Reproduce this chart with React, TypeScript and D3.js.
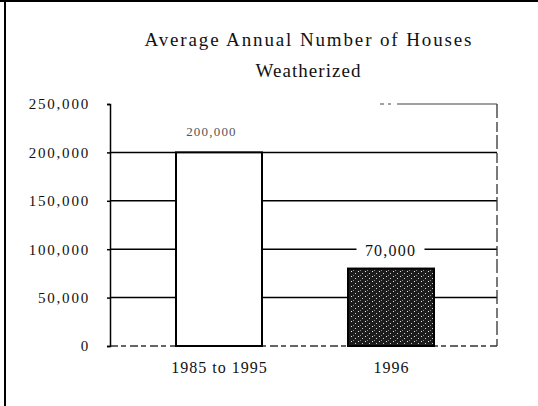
import * as d3 from 'd3';
import React, { useEffect, useRef } from 'react';

const categories = ['1985 to 1995', '1996'];
const values = [200000, 80000];
const valueLabels = ['200,000', '70,000'];
const yTicks = [0, 50000, 100000, 150000, 200000, 250000];
const titleLines = ['Average Annual Number of Houses', 'Weatherized'];

const FONT = '"Liberation Serif", "Times New Roman", serif';

function drawChart(el: SVGSVGElement) {
  const width = 538;
  const height = 406;
  const left = 110, right = 497, top = 104, bottom = 346;

  const svg = d3.select(el);
  svg.selectAll('*').remove();

  // speckled fill for the second bar
  const defs = svg.append('defs');
  const pat = defs.append('pattern')
    .attr('id', 'speckle')
    .attr('patternUnits', 'userSpaceOnUse')
    .attr('width', 7)
    .attr('height', 5);
  pat.append('rect').attr('width', 7).attr('height', 5).attr('fill', '#1c1c1c');
  pat.append('rect').attr('x', 1).attr('y', 1).attr('width', 1).attr('height', 1).attr('fill', '#e8e8e8');
  pat.append('rect').attr('x', 5).attr('y', 3).attr('width', 1).attr('height', 1).attr('fill', '#cfcfcf');
  pat.append('rect').attr('x', 3).attr('y', 0).attr('width', 1).attr('height', 1).attr('fill', '#888');

  svg.append('rect').attr('width', width).attr('height', height).attr('fill', '#fff');

  // page frame (left and top edges)
  svg.append('line').attr('x1', 0).attr('x2', width).attr('y1', 1).attr('y2', 1)
    .attr('stroke', '#000').attr('stroke-width', 2);
  svg.append('line').attr('x1', 5).attr('x2', 5).attr('y1', 0).attr('y2', height)
    .attr('stroke', '#000').attr('stroke-width', 2);

  // title
  const titleY = [46, 77];
  const titleW = [327, 105];
  titleLines.forEach((t, i) => {
    svg.append('text')
      .attr('x', 308).attr('y', titleY[i])
      .attr('text-anchor', 'middle')
      .attr('font-family', FONT).attr('font-size', 19)
      .attr('textLength', titleW[i]).attr('lengthAdjust', 'spacing')
      .attr('fill', '#111')
      .text(t);
  });

  const x = d3.scaleBand<string>()
    .domain(categories)
    .range([left, right])
    .paddingInner(0.5)
    .paddingOuter(0.375);

  const y = d3.scaleLinear().domain([0, 250000]).range([bottom, top]);

  // gridlines
  svg.append('g').selectAll('line')
    .data(yTicks.filter(d => d > 0 && d < 250000))
    .join('line')
    .attr('x1', left).attr('x2', right)
    .attr('y1', d => y(d)).attr('y2', d => y(d))
    .attr('stroke', '#000').attr('stroke-width', 1.5);

  // top, bottom and right edges of the plot, faint and broken
  svg.append('line').attr('x1', left).attr('x2', right)
    .attr('y1', y(250000)).attr('y2', y(250000))
    .attr('stroke', '#444').attr('stroke-width', 1.2)
    .attr('stroke-dasharray', '0 270 4 4 3 6 60');
  svg.append('line').attr('x1', left).attr('x2', right)
    .attr('y1', y(0)).attr('y2', y(0))
    .attr('stroke', '#333').attr('stroke-width', 1.3)
    .attr('stroke-dasharray', '8 3 5 4');
  svg.append('line').attr('x1', right).attr('x2', right)
    .attr('y1', y(250000)).attr('y2', y(0))
    .attr('stroke', '#333').attr('stroke-width', 1.3)
    .attr('stroke-dasharray', '14 4 10 3');

  // y axis
  const yAxis = d3.axisLeft(y)
    .tickValues(yTicks)
    .tickSize(3)
    .tickPadding(17)
    .tickFormat(d => d3.format(',')(d as number));
  const ga = svg.append('g').attr('transform', `translate(${left},0)`).call(yAxis);
  ga.select('.domain').attr('stroke-width', 1.5);
  ga.selectAll('.tick line').attr('stroke-width', 1.5);
  ga.selectAll('.tick text')
    .attr('font-family', FONT).attr('font-size', 15)
    .attr('letter-spacing', 1.8)
    .attr('fill', '#111');

  // bars
  svg.append('g').selectAll('rect')
    .data(values)
    .join('rect')
    .attr('x', (d, i) => x(categories[i])! + 1.5)
    .attr('y', d => y(d))
    .attr('width', x.bandwidth())
    .attr('height', d => y(0) - y(d))
    .attr('fill', (d, i) => (i === 0 ? '#fff' : 'url(#speckle)'))
    .attr('stroke', '#000')
    .attr('stroke-width', 2);

  // value labels
  const lbl = svg.append('g').selectAll('g')
    .data(values)
    .join('g')
    .attr('transform', (d, i) => `translate(${x(categories[i])! + x.bandwidth() / 2 + (i === 0 ? -6 : 1)},${i === 0 ? y(d) - 16 : y(100000) + 7})`);
  lbl.filter((d, i) => i === 1).append('rect')
    .attr('x', -34).attr('y', -15).attr('width', 68).attr('height', 19)
    .attr('fill', '#fff');
  lbl.append('text')
    .attr('text-anchor', 'middle')
    .attr('font-family', FONT)
    .attr('font-size', (d, i) => (i === 0 ? 13 : 16))
    .attr('letter-spacing', 1.2)
    .attr('fill', (d, i) => (i === 0 ? '#555' : '#111'))
    .text((d, i) => valueLabels[i]);

  // category labels
  svg.append('g').selectAll('text')
    .data(categories)
    .join('text')
    .attr('x', d => x(d)! + x.bandwidth() / 2 + 2)
    .attr('y', 373)
    .attr('text-anchor', 'middle')
    .attr('font-family', FONT).attr('font-size', 16)
    .attr('letter-spacing', 1)
    .attr('fill', '#111')
    .text(d => d);
}

export default function App() {
  const ref = useRef<SVGSVGElement>(null);
  useEffect(() => {
    if (ref.current) drawChart(ref.current);
  });
  return (
    <svg ref={ref} width={538} height={406}
      style={{ position: 'absolute', left: 0, top: 0, display: 'block' }} />
  );
}
